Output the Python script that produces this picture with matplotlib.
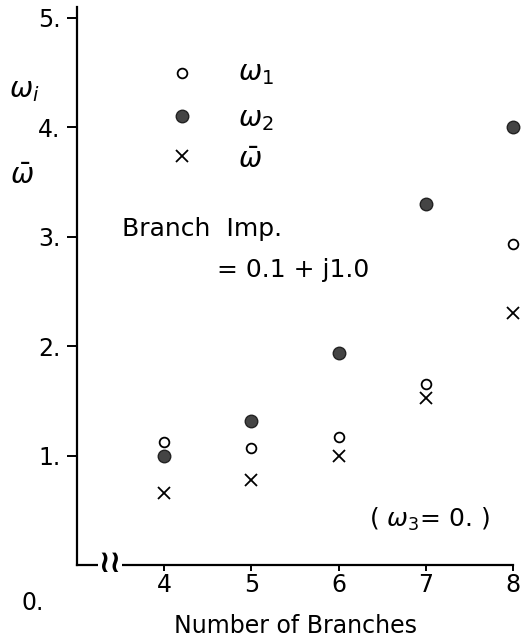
import matplotlib
matplotlib.use("Agg")
import matplotlib.pyplot as plt

branches = [4, 5, 6, 7, 8]
omega1 = [1.12, 1.07, 1.17, 1.65, 2.93]
omega2 = [1.00, 1.32, 1.94, 3.30, 4.00]
omega_bar = [0.66, 0.78, 1.00, 1.53, 2.30]
x_ticks = [4, 5, 6, 7, 8]
y_ticks = [1, 2, 3, 4, 5]
y_tick_labels = ["1.", "2.", "3.", "4.", "5."]

plt.rcParams['font.family'] = ['DejaVu Sans']
fig = plt.figure(figsize=(5.22, 6.4), dpi=100)
ax = fig.add_axes([77/522, 1 - 565/640, (513 - 77)/522, (565 - 7)/640])
ax.set_xlim(3, 8)
ax.set_ylim(0, 5.1)
for s in ['top', 'right']:
    ax.spines[s].set_visible(False)
for s in ['left', 'bottom']:
    ax.spines[s].set_linewidth(1.6)

ax.plot(branches, omega1, 'o', ms=7, mfc='white', mec='black', mew=1.3, ls='none', clip_on=False)
ax.plot(branches, omega2, 'o', ms=9, mfc='#444444', mec='#222222', mew=1, ls='none', clip_on=False)
ax.plot(branches, omega_bar, 'x', ms=9, color='black', mew=1.3, ls='none', clip_on=False)

ax.set_xticks(x_ticks)
ax.set_xticklabels([str(v) for v in x_ticks])
ax.set_yticks(y_ticks)
ax.set_yticklabels(y_tick_labels)
ax.tick_params(axis='x', direction='out', length=4, width=1.4, labelsize=17, pad=2)
ax.tick_params(axis='y', direction='out', length=7, width=1.4, labelsize=17, pad=5)
ax.set_xlabel("Number of Branches", fontsize=17, labelpad=12)

# "0." label and axis break
fig.text(33/522, 1 - 603/640, "0.", fontsize=17, ha='center', va='center')
fig.text(110/522, 1 - 564/640, "≀≀", fontsize=22, ha='center', va='center',
         fontweight='bold', bbox=dict(fc='white', ec='none', pad=0.2))

# Legend (hand drawn style)
ax.plot([4.2], [4.50], 'o', ms=7, mfc='white', mec='black', mew=1.3)
ax.plot([4.2], [4.10], 'o', ms=9, mfc='#444444', mec='#222222', mew=1)
ax.plot([4.2], [3.74], 'x', ms=9, color='black', mew=1.3)
ax.text(4.85, 4.50, r"$\omega_1$", fontsize=20, va='center')
ax.text(4.85, 4.08, r"$\omega_2$", fontsize=20, va='center')
ax.text(4.85, 3.70, r"$\bar{\omega}$", fontsize=20, va='center')

# y label
fig.text(24/522, 1 - 90/640, r"$\omega_i$", fontsize=20, ha='center', va='center')
fig.text(22/522, 1 - 176/640, r"$\bar{\omega}$", fontsize=20, ha='center', va='center')

ax.text(3.52, 3.07, "Branch  Imp.", fontsize=18, va='center')
ax.text(4.6, 2.70, "= 0.1 + j1.0", fontsize=18, va='center')
ax.text(6.35, 0.42, r"( $\omega_3$= 0. )", fontsize=18, va='center')

fig.savefig("out.png", dpi=100)
